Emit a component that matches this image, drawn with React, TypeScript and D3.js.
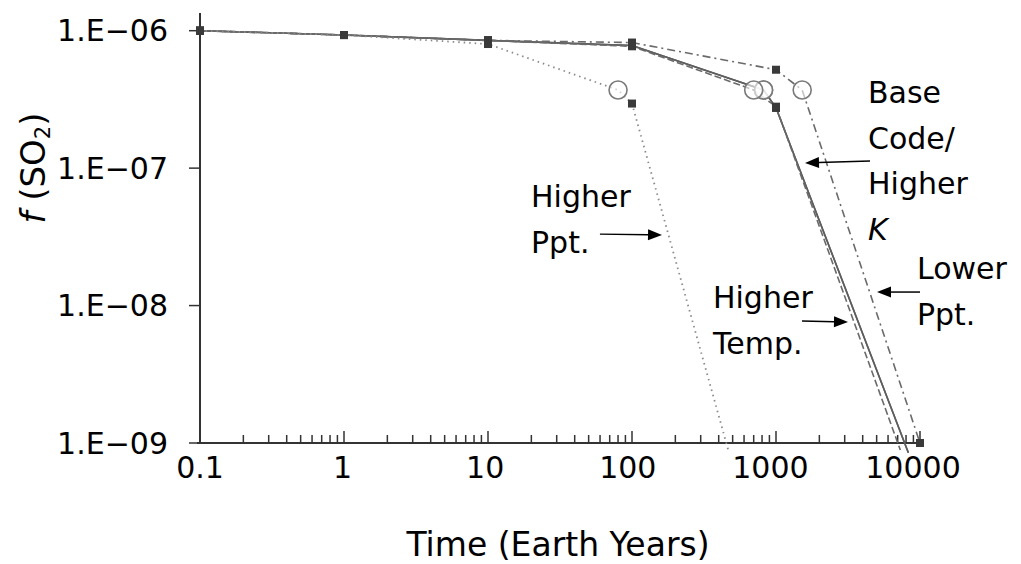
import React from "react";
import * as d3 from "d3";

// ---------- data ----------
const seriesNames = ["Base Code", "Higher K", "Higher Temp.", "Lower Ppt.", "Higher Ppt."];
const baseT = [0.1, 1, 10, 100, 820, 1000, 8300];
const baseF = [1e-6, 9.3e-7, 8.5e-7, 7.8e-7, 3.7e-7, 2.75e-7, 8.5e-10];
const higherKT = [0.1, 1, 10, 100, 820, 1000, 8300];
const higherKF = [1e-6, 9.3e-7, 8.5e-7, 7.8e-7, 3.7e-7, 2.75e-7, 8.5e-10];
const higherTempT = [0.1, 1, 10, 100, 700, 1000, 7300];
const higherTempF = [1e-6, 9.3e-7, 8.5e-7, 7.7e-7, 3.7e-7, 2.8e-7, 8.9e-10];
const lowerPptT = [0.1, 1, 10, 100, 1000, 1520, 10000];
const lowerPptF = [1e-6, 9.3e-7, 8.5e-7, 8.2e-7, 5.2e-7, 3.7e-7, 1e-9];
const higherPptT = [0.1, 1, 10, 80, 100, 470];
const higherPptF = [1e-6, 9.3e-7, 8.0e-7, 3.7e-7, 2.95e-7, 8.6e-10];
const circleIndex = [4, 4, 4, 5, 3];
const squareIndex = [[0, 1, 2, 3, 5], [0, 1, 2, 3, 5], [0, 1, 2, 3, 5], [0, 1, 2, 3, 4, 6], [0, 1, 2, 4]];

const xTickValues = [0.1, 1, 10, 100, 1000, 10000];
const xTickLabels = ["0.1", "1", "10", "100", "1000", "10000"];
const yTickValues = [1e-6, 1e-7, 1e-8, 1e-9];
const yTickLabels = ["1.E\u221206", "1.E\u221207", "1.E\u221208", "1.E\u221209"];

// annotations in data units: text lines, first-line anchor (t,f), arrow tail, arrow tip
const annotations = [
  { lines: ["Higher", "Ppt."], italicLast: false, at: [19.9, 5.21e-8], tail: [59.9, 3.31e-8], tip: [161.6, 3.26e-8] },
  { lines: ["Base", "Code/", "Higher", "K"], italicLast: true, at: [4354, 2.977e-7], tail: [4496, 1.126e-7], tip: [1590, 1.089e-7] },
  { lines: ["Higher", "Temp."], italicLast: false, at: [365, 9.59e-9], tail: [1516, 7.71e-9], tip: [3162, 7.59e-9] },
  { lines: ["Lower", "Ppt."], italicLast: false, at: [9528, 1.559e-8], tail: [10000, 1.254e-8], tip: [5028, 1.254e-8] },
];

const seriesStyle = [
  { stroke: "#5e5e5e", dash: "none", width: 1.6 },
  { stroke: "#5e5e5e", dash: "none", width: 1.6 },
  { stroke: "#6a6a6a", dash: "7,3", width: 1.6 },
  { stroke: "#6a6a6a", dash: "8,4,2,4", width: 1.6 },
  { stroke: "#8a8a8a", dash: "1.5,4", width: 1.8 },
];

const W = 1021;
const H = 564;
const FONT = "'DejaVu Sans', Verdana, sans-serif";

export default function App() {
  const x = d3.scaleLog().domain([0.1, 10000]).range([200, 920]);
  const y = d3.scaleLog().domain([1e-9, 1e-6]).range([443, 30.7]);

  const allT = [baseT, higherKT, higherTempT, lowerPptT, higherPptT];
  const allF = [baseF, higherKF, higherTempF, lowerPptF, higherPptF];
  const series = seriesNames.map((name, i) => ({
    name,
    pts: allT[i].map((t, j) => [t, allF[i][j]] as [number, number]),
    style: seriesStyle[i],
    circle: circleIndex[i],
    squares: squareIndex[i],
  }));

  const line = d3
    .line<[number, number]>()
    .x((d) => x(d[0]))
    .y((d) => y(d[1]));

  const minor: number[] = [];
  [0.1, 1, 10, 100, 1000].forEach((d) => {
    for (let k = 2; k <= 9; k++) minor.push(d * k);
  });

  const y0 = y(1e-9);
  const x0 = x(0.1);
  const fs = 30;
  const lh = 45.5;

  return (
    <svg width={W} height={H} style={{ position: "absolute", left: 0, top: 0, background: "#fff" }} fontFamily={FONT}>
      {/* axes */}
      <line x1={x0 - 3} x2={x(10000) + 2} y1={y0} y2={y0} stroke="#333" strokeWidth={2} />
      <line x1={x0} x2={x0} y1={13} y2={y0} stroke="#333" strokeWidth={2} />
      {minor.map((v, i) => (
        <line key={"mi" + i} x1={x(v)} x2={x(v)} y1={y0} y2={y0 - 8} stroke="#333" strokeWidth={1.5} />
      ))}
      {xTickValues.slice(1).map((v, i) => (
        <line key={"ma" + i} x1={x(v)} x2={x(v)} y1={y0} y2={y0 - 12} stroke="#333" strokeWidth={1.5} />
      ))}
      {yTickValues.map((v, i) => (
        <line key={"yt" + i} x1={x0 - 11} x2={x0} y1={y(v)} y2={y(v)} stroke="#333" strokeWidth={1.5} />
      ))}
      {xTickValues.map((v, i) => (
        <text key={"xl" + i} x={x(v) - i * 1.4} y={478} fontSize={fs} textAnchor="middle" fill="#000">
          {xTickLabels[i]}
        </text>
      ))}
      {yTickValues.map((v, i) => (
        <text key={"yl" + i} x={168} y={y(v) + 10.5} fontSize={fs} textAnchor="end" fill="#000">
          {yTickLabels[i]}
        </text>
      ))}
      <text x={558} y={556} fontSize={33} textAnchor="middle" fill="#000">
        Time (Earth Years)
      </text>
      <text transform={`translate(45,168) rotate(-90)`} fontSize={34} textAnchor="middle" fill="#000">
        <tspan fontStyle="italic">f</tspan>
        <tspan> (SO</tspan>
        <tspan fontSize={21} dy={5}>2</tspan>
        <tspan dy={-5}>)</tspan>
      </text>

      {/* series lines */}
      {series.map((s, i) => (
        <path
          key={"ln" + i}
          d={line(s.pts) || ""}
          fill="none"
          stroke={s.style.stroke}
          strokeWidth={s.style.width}
          strokeDasharray={s.style.dash}
        />
      ))}
      {/* circles */}
      {series.map((s, i) => (
        <circle
          key={"c" + i}
          cx={x(s.pts[s.circle][0])}
          cy={y(s.pts[s.circle][1])}
          r={9}
          fill="#fff"
          fillOpacity={0.6}
          stroke="#7a7a7a"
          strokeWidth={1.6}
        />
      ))}
      {/* squares */}
      {series.map((s, i) =>
        s.squares.map((j) => (
          <rect
            key={"s" + i + "-" + j}
            x={x(s.pts[j][0]) - 4}
            y={y(s.pts[j][1]) - 4}
            width={8}
            height={8}
            fill="#3a3a3a"
          />
        ))
      )}

      {/* annotations */}
      {annotations.map((a, i) => {
        const tx = x(a.at[0]);
        const ty = y(a.at[1]);
        const x1 = x(a.tail[0]);
        const yy1 = y(a.tail[1]);
        const x2 = x(a.tip[0]);
        const yy2 = y(a.tip[1]);
        const ang = Math.atan2(yy2 - yy1, x2 - x1);
        const L = 14;
        const Wd = 5.5;
        const bx = x2 - L * Math.cos(ang);
        const by = yy2 - L * Math.sin(ang);
        const px = -Math.sin(ang) * Wd;
        const py = Math.cos(ang) * Wd;
        return (
          <g key={"an" + i}>
            {a.lines.map((t, k) => (
              <text
                key={k}
                x={tx}
                y={ty + k * lh}
                fontSize={fs}
                fill="#000"
                fontStyle={a.italicLast && k === a.lines.length - 1 ? "italic" : "normal"}
              >
                {t}
              </text>
            ))}
            <line x1={x1} y1={yy1} x2={bx} y2={by} stroke="#000" strokeWidth={1.5} />
            <polygon points={`${x2},${yy2} ${bx + px},${by + py} ${bx - px},${by - py}`} fill="#000" />
          </g>
        );
      })}
    </svg>
  );
}
